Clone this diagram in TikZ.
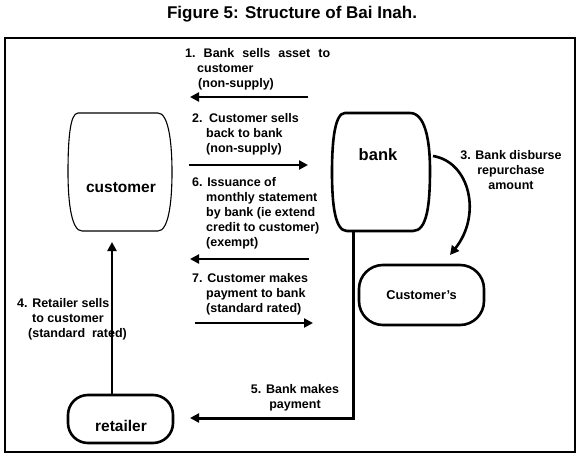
\documentclass[tikz,border=0pt]{standalone}
\usepackage{fontspec}
\setmainfont{Liberation Sans}
\usetikzlibrary{arrows.meta}
\begin{document}
\begin{tikzpicture}[x=1pt,y=-1pt,
  lbl/.style={font=\fontsize{12.5}{15}\selectfont\bfseries, inner sep=0pt, anchor=north west, align=left},
  clbl/.style={lbl, anchor=north, align=center},
  arr/.style={line width=2.6pt, -{Triangle[length=9pt,width=9pt]}},
  shpthick/.style={draw, line width=2.6pt},
  bxshape/.style={shpthick, inner sep=0pt},
  txtnode/.style={inner sep=0pt, font=\bfseries}]
\useasboundingbox (0,0) rectangle (584,458);
% title
\node[txtnode, font=\fontsize{17}{20}\selectfont\bfseries] (title) at (292,14) {Figure 5: Structure of Bai Inah.};
% frame
\draw[line width=1.5pt] (5,38) rectangle (575,452);
% customer barrel
\draw[line width=1.1pt] (78,113) -- (158,113) .. controls (168,113) and (172,140) .. (172,172)
  .. controls (172,205) and (168,231) .. (158,231) -- (82,231)
  .. controls (72,231) and (68,205) .. (68,172) .. controls (68,140) and (70,113) .. (78,113) -- cycle;
\node[txtnode, font=\fontsize{15.5}{18}\selectfont\bfseries] (customer) at (121,188) {customer};
% bank barrel
\draw[shpthick] (345,113) -- (410,113) .. controls (425,113) and (430,140) .. (430,170)
  .. controls (430,205) and (427,231) .. (413,231) -- (347,231)
  .. controls (335,231) and (332,205) .. (332,172) .. controls (332,140) and (335,113) .. (345,113) -- cycle;
\node[txtnode, font=\fontsize{16.5}{19}\selectfont\bfseries] (bank) at (378,155) {bank};
% Customer's
\node[bxshape, rounded corners=24pt, minimum width=125pt, minimum height=60pt,
  font=\fontsize{12.8}{15}\selectfont\bfseries] (custs) at (421.5,295) {Customer's};
% retailer
\node[bxshape, rounded corners=20pt, minimum width=105pt, minimum height=48pt] (retailer) at (120.5,419) {};
\node[txtnode, font=\fontsize{15.5}{18}\selectfont\bfseries] (rettxt) at (121,426) {retailer};
% coordinates for free arrow ends
\coordinate (a1s) at (308,97);  \coordinate (a1e) at (190,97);
\coordinate (a2s) at (189,165); \coordinate (a2e) at (308,165);
\coordinate (a6s) at (309,259); \coordinate (a6e) at (190,259);
\coordinate (a7s) at (195,323); \coordinate (a7e) at (313,323);
\coordinate (a4s) at (112,395); \coordinate (a4e) at (112,242);
\coordinate (a5s) at (353,231); \coordinate (a5c) at (353,418); \coordinate (a5e) at (190,418);
\coordinate (a3s) at (433,156); \coordinate (a3e) at (450,255);
% arrows
\draw[arr] (a1s) -- (a1e);
\draw[arr] (a2s) -- (a2e);
\draw[arr] (a6s) -- (a6e);
\draw[arr] (a7s) -- (a7e);
\draw[arr] (a4s) -- (a4e);
\draw[arr, line width=3pt] (a5s) -- (a5c) -- (a5e);
\draw[arr] (a3s) .. controls (470,162) and (482,215) .. (a3e);
% labels
\node[lbl] (l1) at (185,48) {\makebox[145pt][s]{1.\ Bank sells asset to}\\\hspace*{12pt}customer\\\hspace*{13pt}(non-supply)};
\node[lbl] (l2) at (192,113) {2.\hspace{6.5pt}Customer sells\\\hspace*{14pt}back to bank\\\hspace*{14pt}(non-supply)};
\node[lbl] (l6) at (192,177) {6. Issuance of\\\hspace*{14pt}monthly statement\\\hspace*{14pt}by bank (ie extend\\\hspace*{14pt}credit to customer)\\\hspace*{14pt}(exempt)};
\node[lbl] (l7) at (192,273) {7. Customer makes\\\hspace*{14pt}payment to bank\\\hspace*{14pt}(standard rated)};
\node[clbl] (l3) at (511,150) {3. Bank disburse\\repurchase\\amount};
\node[lbl] (l4) at (17,298) {4. Retailer sells\\\hspace*{15pt}to customer\\\hspace*{11pt}(standard\ \ rated)};
\node[clbl] (l5) at (295,384) {5. Bank makes\\payment};
\end{tikzpicture}
\end{document}
